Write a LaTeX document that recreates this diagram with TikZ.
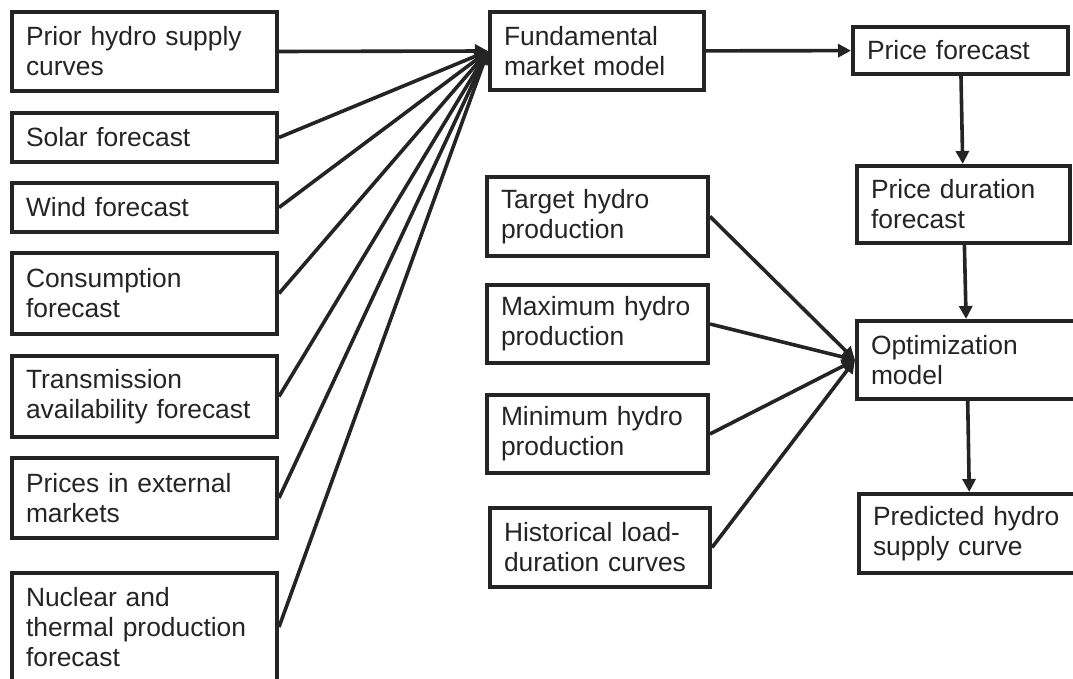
\documentclass[tikz,border=0pt]{standalone}
\usepackage{fontspec}
\setmainfont{Liberation Sans}
\usepackage{xcolor}
\usepackage{tikz}
\usetikzlibrary{arrows.meta}
\definecolor{darkline}{RGB}{36,36,36}
\newcommand{\boxfont}{\fontsize{13.2}{15}\selectfont\hyphenpenalty=10000\relax}

\begin{document}
\begin{tikzpicture}[x=0.5pt,y=-0.5pt,
        box/.style={draw=darkline,line width=2pt,rectangle,inner xsep=7pt,inner ysep=0pt,align=left,text=darkline,font=\boxfont},
        conn/.style={draw=darkline,line width=1.8pt,-{Triangle[length=6.5pt,width=6.5pt]}}]
            \useasboundingbox (0,0) rectangle (1073,679);
            % inputs of the market model
            \node[box,text width=118.5pt,minimum height=39.5pt] (1) at (144.5,51.5) {Prior hydro supply\\curves};
            \node[box,text width=118.5pt,minimum height=24.5pt] (2) at (144.5,137.5) {Solar forecast};
            \node[box,text width=118.5pt,minimum height=24.5pt] (3) at (144.5,207.5) {Wind forecast};
            \node[box,text width=118.5pt,minimum height=40.5pt] (4) at (144.5,293.5) {Consumption\\forecast};
            \node[box,text width=118.5pt,minimum height=40.5pt] (5) at (144.5,396.5) {Transmission\\availability forecast};
            \node[box,text width=118.5pt,minimum height=40pt] (6) at (144.5,498) {Prices in external\\markets};
            \node[box,text width=118.5pt,minimum height=54pt] (7) at (144.5,627) {Nuclear and\\thermal production\\forecast};
            % market model and price chain
            \node[box,text width=93pt,minimum height=39pt] (8) at (597,51) {Fundamental\\market model};
            \node[box,text width=93.5pt,minimum height=23.5pt] (9) at (960.5,50.5) {Price forecast};
            \node[box,text width=92.5pt,minimum height=38.5pt] (10) at (963.5,204.5) {Price duration\\forecast};
            \node[box,text width=96pt,minimum height=39pt] (11) at (967,360) {Optimization\\model};
            \node[box,text width=97pt,minimum height=39.5pt] (12) at (970,533.5) {Predicted hydro\\supply curve};
            % inputs of the optimization
            \node[box,text width=96.5pt,minimum height=39.5pt] (13) at (597.5,216.5) {Target hydro\\production};
            \node[box,text width=96.5pt,minimum height=39pt] (14) at (597.5,324) {Maximum hydro\\production};
            \node[box,text width=96.5pt,minimum height=39pt] (15) at (597.5,434) {Minimum hydro\\production};
            \node[box,text width=96pt,minimum height=39.5pt] (16) at (600,547.5) {Historical load-\\duration curves};
            \draw[conn] (1.east) -- (8.west);
            \draw[conn] (2.east) -- (8.west);
            \draw[conn] (3.east) -- (8.west);
            \draw[conn] (4.east) -- (8.west);
            \draw[conn] (5.east) -- (8.west);
            \draw[conn] (6.east) -- (8.west);
            \draw[conn] (7.east) -- (8.west);
            \draw[conn] (8) -- (9);
            \draw[conn] (9) -- (10);
            \draw[conn] (10) -- (11);
            \draw[conn] (11) -- (12);
            \draw[conn] (13.east) -- (11.west);
            \draw[conn] (14.east) -- (11.west);
            \draw[conn] (15.east) -- (11.west);
            \draw[conn] (16.east) -- (11.west);
        \end{tikzpicture}
\end{document}
